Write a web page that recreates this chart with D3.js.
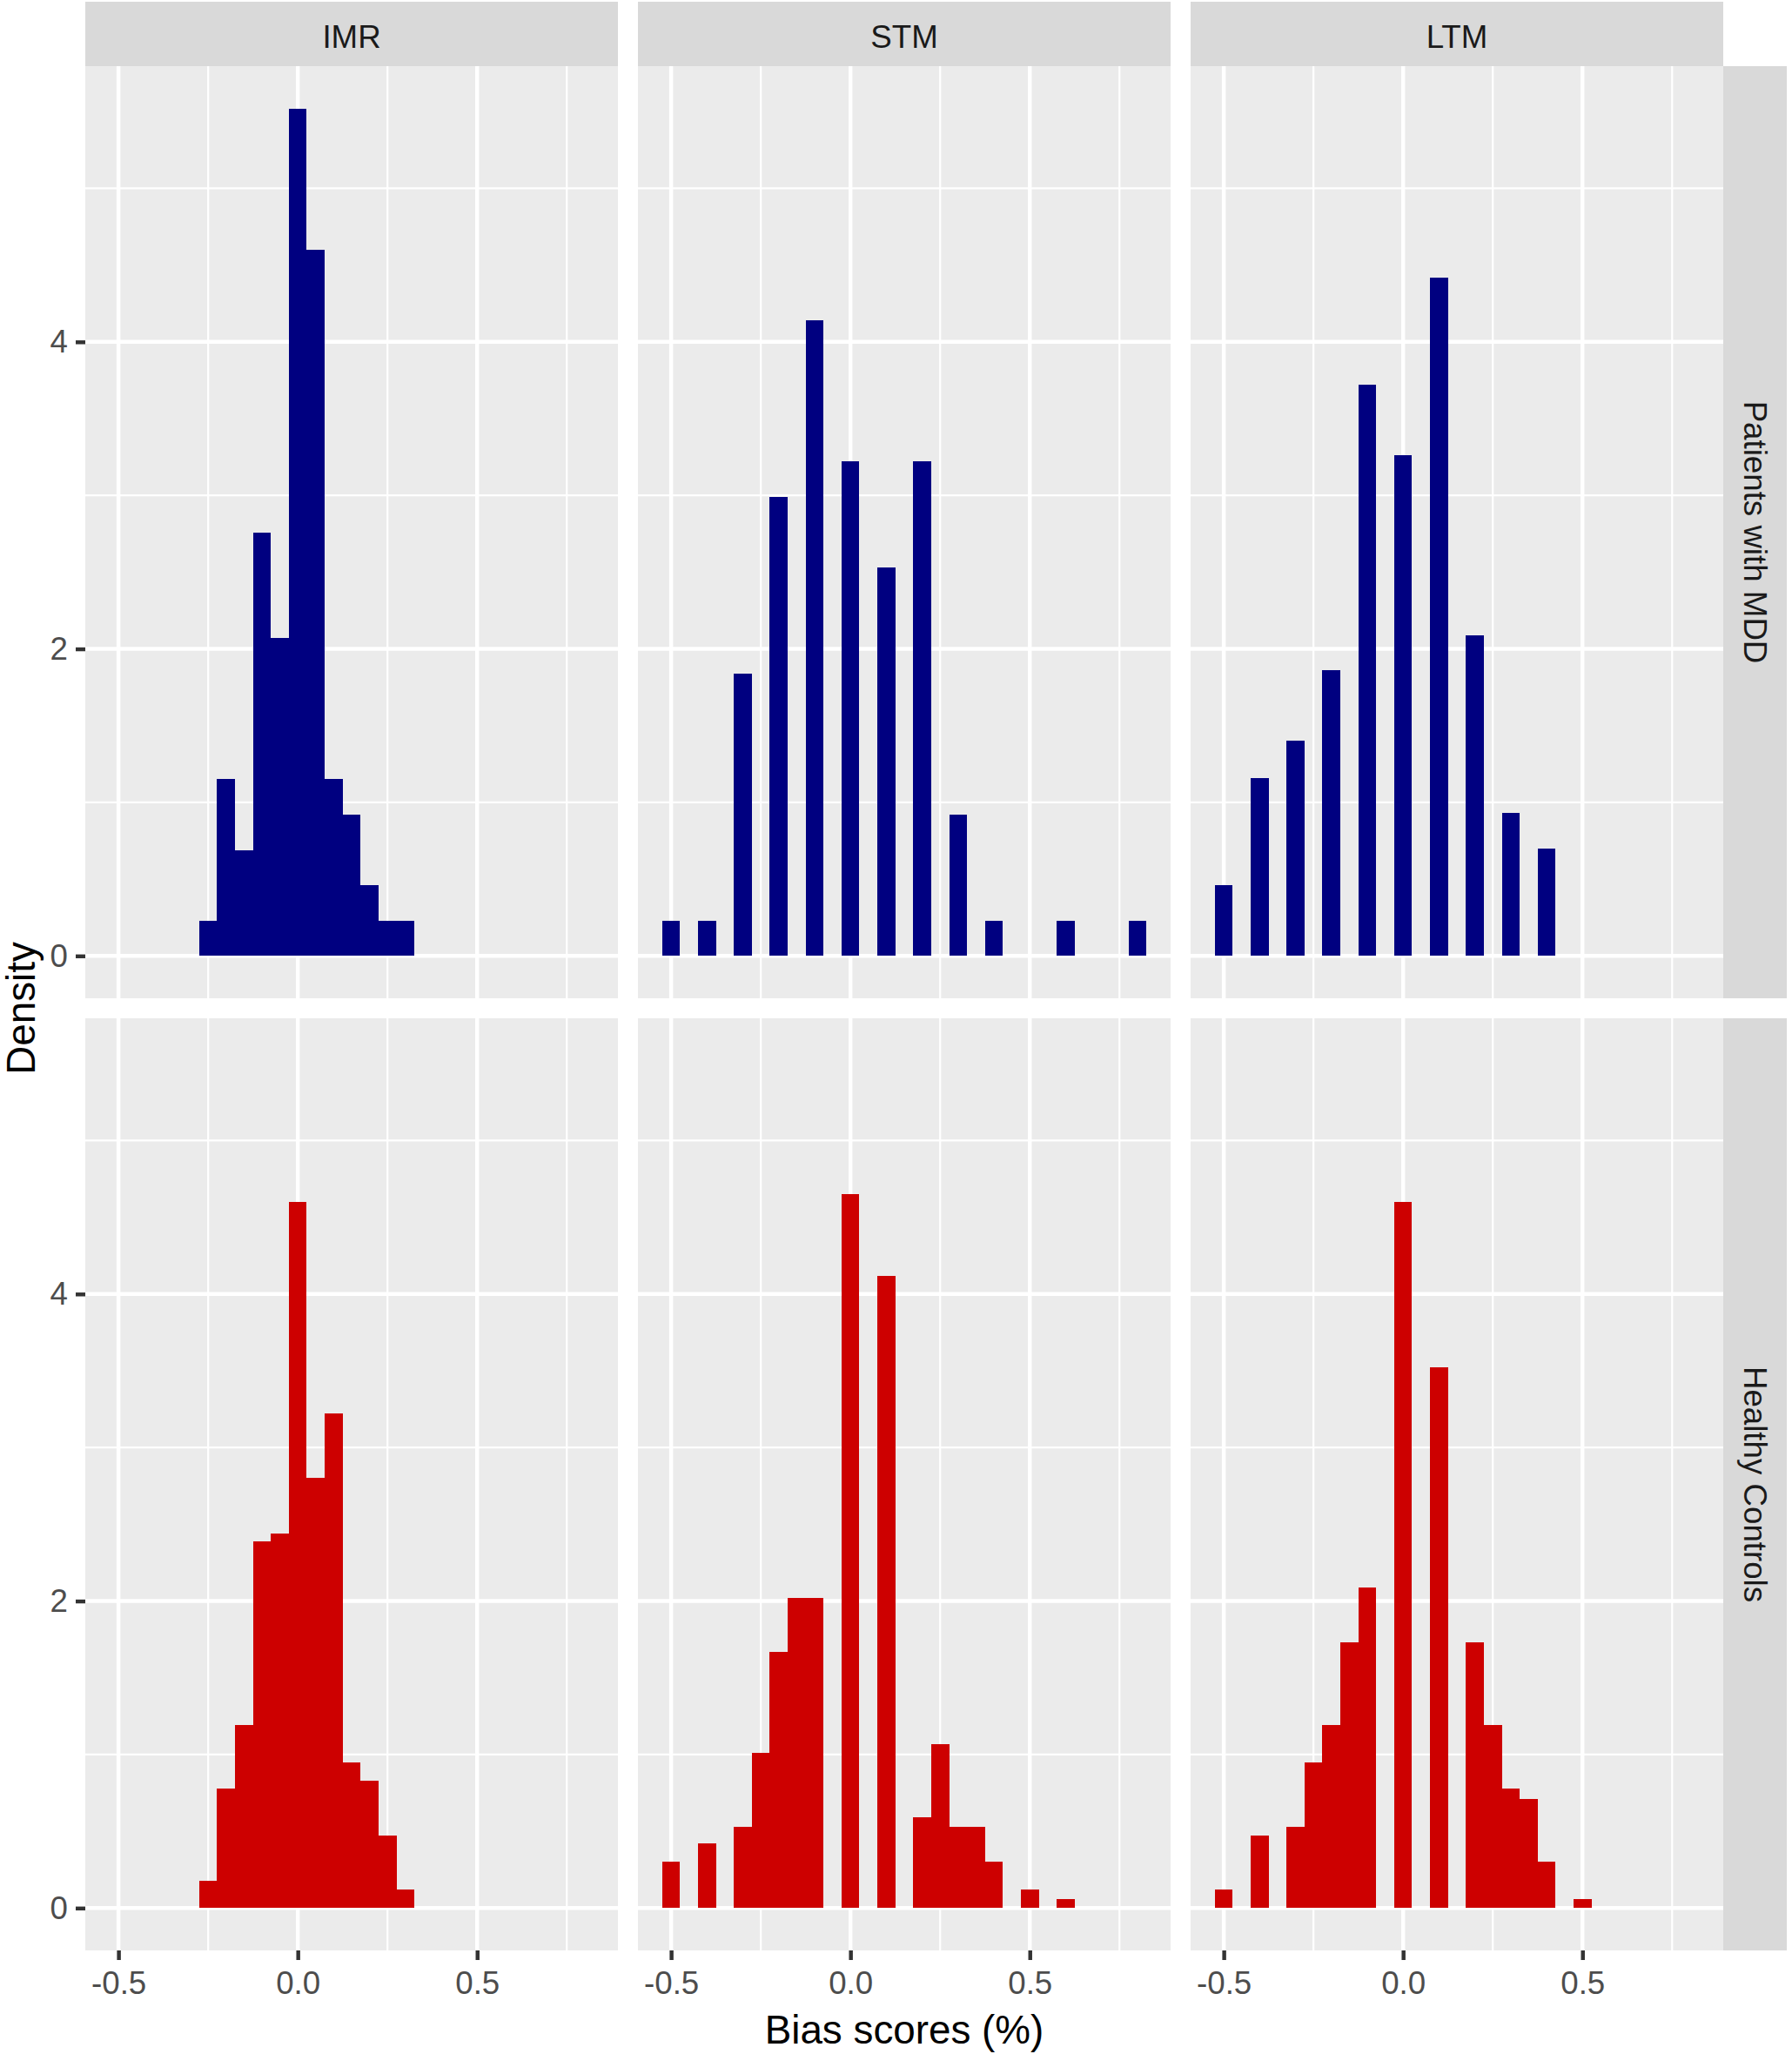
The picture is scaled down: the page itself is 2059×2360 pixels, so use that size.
<!doctype html>
<html>
<head>
    <script src="https://d3js.org/d3.v7.min.js"></script>
    <style>
        body { margin: 0; background: #fff; }
        text { font-family: "Liberation Sans", Arial, sans-serif; }
    </style>
</head>
<body>

    <svg width="2059" height="2360"></svg>

    <script>
        // facets
        var tasks = ["IMR", "STM", "LTM"];
        var groups = ["Patients with MDD", "Healthy Controls"];
        var binWidth = 0.05;
        var xTicks = [-0.5, 0, 0.5];
        var yTicks = [0, 2, 4];

        // bin centres and densities, one pair per panel
        var imrMddX = [-0.25, -0.2, -0.15, -0.1, -0.05, 0, 0.05, 0.1, 0.15, 0.2, 0.25, 0.3];
        var imrMddY = [0.23, 1.15, 0.69, 2.76, 2.07, 5.52, 4.60, 1.15, 0.92, 0.46, 0.23, 0.23];

        var stmMddX = [-0.5, -0.4, -0.3, -0.2, -0.1, 0, 0.1, 0.2, 0.3, 0.4, 0.6, 0.8];
        var stmMddY = [0.23, 0.23, 1.84, 2.99, 4.14, 3.22, 2.53, 3.22, 0.92, 0.23, 0.23, 0.23];

        var ltmMddX = [-0.5, -0.4, -0.3, -0.2, -0.1, 0, 0.1, 0.2, 0.3, 0.4];
        var ltmMddY = [0.46, 1.16, 1.40, 1.86, 3.72, 3.26, 4.42, 2.09, 0.93, 0.70];

        var imrHcX = [-0.25, -0.2, -0.15, -0.1, -0.05, 0, 0.05, 0.1, 0.15, 0.2, 0.25, 0.3];
        var imrHcY = [0.18, 0.78, 1.19, 2.39, 2.44, 4.60, 2.80, 3.22, 0.95, 0.83, 0.47, 0.12];

        var stmHcX = [-0.5, -0.4, -0.3, -0.25, -0.2, -0.15, -0.1, 0, 0.1, 0.2, 0.25, 0.3, 0.35, 0.4, 0.5, 0.6];
        var stmHcY = [0.30, 0.42, 0.53, 1.01, 1.67, 2.02, 2.02, 4.65, 4.12, 0.59, 1.07, 0.53, 0.53, 0.30, 0.12, 0.06];

        var ltmHcX = [-0.5, -0.4, -0.3, -0.25, -0.2, -0.15, -0.1, 0, 0.1, 0.2, 0.25, 0.3, 0.35, 0.4, 0.5];
        var ltmHcY = [0.12, 0.47, 0.53, 0.95, 1.19, 1.73, 2.09, 4.60, 3.52, 1.73, 1.19, 0.78, 0.71, 0.30, 0.06];

        var groupColors = ["#000080", "#CD0000"];

        // panels[row][col]
        var panels = [
            [[imrMddX, imrMddY], [stmMddX, stmMddY], [ltmMddX, ltmMddY]],
            [[imrHcX, imrHcY], [stmHcX, stmHcY], [ltmHcX, ltmHcY]]
        ];

        var svg = d3.select("svg");

        var marginLeft = 98, marginTop = 76,
            panelW = 612, panelH = 1071,
            gap = 23, stripH = 74, stripW = 73;

        // shared scales, ggplot style 5% expansion
        var allX = [], allY = [];
        panels.forEach(r => r.forEach(p => { allX = allX.concat(p[0]); allY = allY.concat(p[1]); }));
        var xMin = d3.min(allX) - binWidth / 2,
            xMax = d3.max(allX) + binWidth / 2,
            xPad = (xMax - xMin) * 0.05;
        var yMax = d3.max(allY);

        var x = d3.scaleLinear().domain([xMin - xPad, xMax + xPad]).range([0, panelW]);
        var y = d3.scaleLinear().domain([-0.05 * yMax, 1.05 * yMax]).range([panelH, 0]);

        var xMinor = [-0.25, 0.25, 0.75];
        var yMinor = [1, 3, 5];

        panels.forEach(function(row, ri) {
            row.forEach(function(p, ci) {
                var px = marginLeft + ci * (panelW + gap),
                    py = marginTop + ri * (panelH + gap);
                var g = svg.append("g").attr("transform", "translate(" + px + "," + py + ")");

                g.append("rect").attr("width", panelW).attr("height", panelH).attr("fill", "#EBEBEB");

                // minor grid
                g.selectAll(".xminor").data(xMinor.filter(v => v > x.domain()[0] && v < x.domain()[1]))
                    .enter().append("line")
                    .attr("x1", d => x(d)).attr("x2", d => x(d))
                    .attr("y1", 0).attr("y2", panelH)
                    .attr("stroke", "#fff").attr("stroke-width", 2.2);
                g.selectAll(".yminor").data(yMinor.filter(v => v < y.domain()[1]))
                    .enter().append("line")
                    .attr("y1", d => y(d)).attr("y2", d => y(d))
                    .attr("x1", 0).attr("x2", panelW)
                    .attr("stroke", "#fff").attr("stroke-width", 2.2);

                // major grid
                g.selectAll(".xmajor").data(xTicks)
                    .enter().append("line")
                    .attr("x1", d => x(d)).attr("x2", d => x(d))
                    .attr("y1", 0).attr("y2", panelH)
                    .attr("stroke", "#fff").attr("stroke-width", 4.45);
                g.selectAll(".ymajor").data(yTicks)
                    .enter().append("line")
                    .attr("y1", d => y(d)).attr("y2", d => y(d))
                    .attr("x1", 0).attr("x2", panelW)
                    .attr("stroke", "#fff").attr("stroke-width", 4.45);

                // bars
                var bins = p[0].map((c, i) => ({c: c, d: p[1][i]}));
                g.selectAll(".bar").data(bins)
                    .enter().append("rect")
                    .attr("x", d => x(d.c - binWidth / 2))
                    .attr("width", d => x(d.c + binWidth / 2) - x(d.c - binWidth / 2))
                    .attr("y", d => y(d.d))
                    .attr("height", d => y(0) - y(d.d))
                    .attr("fill", groupColors[ri])
                    .attr("shape-rendering", "crispEdges");

                // axes
                if (ci === 0) {
                    var ya = g.append("g").call(d3.axisLeft(y).tickValues(yTicks).tickFormat(d3.format("d")).tickSize(11).tickPadding(9));
                    ya.select(".domain").remove();
                    ya.selectAll("line").attr("stroke", "#333333").attr("stroke-width", 4.45);
                    ya.selectAll("text").attr("fill", "#4D4D4D").style("font-size", "36.7px")
                        .style("font-family", "'Liberation Sans', Arial, sans-serif");
                }
                if (ri === 1) {
                    var xa = g.append("g").attr("transform", "translate(0," + panelH + ")")
                        .call(d3.axisBottom(x).tickValues(xTicks).tickFormat(d3.format(".1f")).tickSize(11).tickPadding(13));
                    xa.select(".domain").remove();
                    xa.selectAll("line").attr("stroke", "#333333").attr("stroke-width", 4.45);
                    xa.selectAll("text").attr("fill", "#4D4D4D").style("font-size", "36.7px")
                        .style("font-family", "'Liberation Sans', Arial, sans-serif")
                        .text(d => d3.format(".1f")(d).replace("−", "-"));
                }

                // column strips
                if (ri === 0) {
                    g.append("rect").attr("y", -stripH).attr("width", panelW).attr("height", stripH).attr("fill", "#D9D9D9");
                    g.append("text")
                        .attr("x", panelW / 2).attr("y", -stripH / 2 + 3).attr("dy", "0.35em")
                        .attr("text-anchor", "middle").attr("fill", "#1A1A1A")
                        .style("font-size", "36.7px")
                        .text(tasks[ci]);
                }
                // row strips
                if (ci === 2) {
                    g.append("rect").attr("x", panelW).attr("width", stripW).attr("height", panelH).attr("fill", "#D9D9D9");
                    g.append("text")
                        .attr("transform", "translate(" + (panelW + stripW / 2) + "," + (panelH / 2) + ") rotate(90)")
                        .attr("dy", "0.35em")
                        .attr("text-anchor", "middle").attr("fill", "#1A1A1A")
                        .style("font-size", "36.7px")
                        .text(groups[ri]);
                }
            });
        });

        // axis titles
        var plotMidX = marginLeft + (3 * panelW + 2 * gap) / 2;
        var plotMidY = marginTop + (2 * panelH + gap) / 2;

        svg.append("text")
            .attr("x", plotMidX).attr("y", 2348)
            .attr("text-anchor", "middle")
            .style("font-size", "45.8px")
            .text("Bias scores (%)");

        svg.append("text")
            .attr("transform", "translate(40," + plotMidY + ") rotate(-90)")
            .attr("text-anchor", "middle")
            .style("font-size", "45.8px")
            .text("Density");
    </script>
</body>
</html>
